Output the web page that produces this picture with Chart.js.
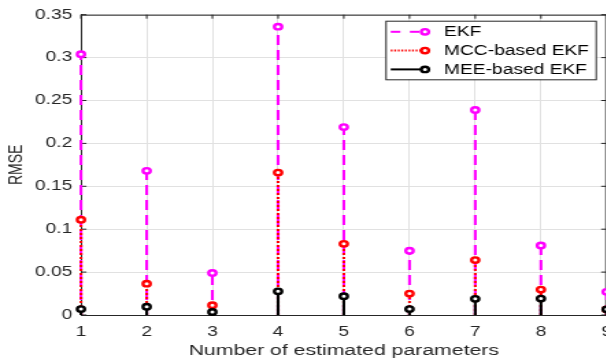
<!DOCTYPE html>
<html>
<head>
<meta charset="utf-8">
<script src="https://cdn.jsdelivr.net/npm/chart.js@4.4.1/dist/chart.umd.min.js"></script>
<style>
  html, body { margin: 0; padding: 0; background: #fff; overflow: hidden; width: 606px; height: 364px; }
  /* the reference is stretched horizontally, so draw narrow and scale the x direction */
  #wrap { width: 470px; height: 364px; transform: scaleX(1.37); transform-origin: 0 0; }
</style>
</head>
<body>
<div id="wrap"><canvas id="chart" width="470" height="364"></canvas></div>
<script>
const params = [1, 2, 3, 4, 5, 6, 7, 8, 9];
const yTicks = [0, 0.05, 0.1, 0.15, 0.2, 0.25, 0.3, 0.35];
const seriesNames = ['EKF', 'MCC-based EKF', 'MEE-based EKF'];
const ekf    = [0.304, 0.168, 0.049, 0.336, 0.219, 0.075, 0.239, 0.081, 0.027];
const mccEkf = [0.111, 0.0365, 0.0115, 0.166, 0.083, 0.025, 0.064, 0.0296, 0.0066];
const meeEkf = [0.0069, 0.0096, 0.0035, 0.0276, 0.0219, 0.0069, 0.0188, 0.0192, 0.0066];

const FONT = "'Liberation Sans', Arial, Helvetica, sans-serif";
const AXIS = '#262626';

function pts(vals) {
  return params.map((p, i) => ({ x: p, y: vals[i] }));
}

function series(label, vals, color, dash, legendDash, order) {
  return {
    label: label,
    data: pts(vals),
    showLine: false,
    borderColor: color,
    pointBorderColor: color,
    pointBackgroundColor: '#fff',
    pointRadius: 2.7,
    pointBorderWidth: 2.4,
    pointHoverRadius: 2.7,
    clip: false,
    order: order,
    stemDash: dash,
    legendDash: legendDash
  };
}

// vertical stems from zero up to each marker
const stemPlugin = {
  id: 'stems',
  beforeDatasetDraw(chart, args) {
    const ds = chart.data.datasets[args.index];
    const base = chart.scales.y.getPixelForValue(0);
    const ctx = chart.ctx;
    ctx.save();
    ctx.strokeStyle = ds.borderColor;
    ctx.lineWidth = 2.1;
    ctx.setLineDash(ds.stemDash);
    args.meta.data.forEach(pt => {
      ctx.beginPath();
      ctx.moveTo(pt.x, base);
      ctx.lineTo(pt.x, pt.y);
      ctx.stroke();
    });
    ctx.restore();
  }
};

// matlab style box with inward ticks
const boxPlugin = {
  id: 'axesBox',
  beforeDatasetsDraw(chart) {
    const { ctx, chartArea: a, scales: { x, y } } = chart;
    ctx.save();
    ctx.strokeStyle = AXIS;
    ctx.lineWidth = 1;
    ctx.beginPath();
    ctx.moveTo(a.left, a.top + 0.5); ctx.lineTo(a.right, a.top + 0.5);
    ctx.moveTo(a.right - 0.5, a.top); ctx.lineTo(a.right - 0.5, a.bottom);
    params.forEach(v => {
      const px = x.getPixelForValue(v);
      ctx.moveTo(px, a.bottom); ctx.lineTo(px, a.bottom - 4);
      ctx.moveTo(px, a.top); ctx.lineTo(px, a.top + 4);
    });
    yTicks.forEach(v => {
      const py = y.getPixelForValue(v);
      ctx.moveTo(a.left, py); ctx.lineTo(a.left + 4, py);
      ctx.moveTo(a.right, py); ctx.lineTo(a.right - 4, py);
    });
    ctx.stroke();
    ctx.restore();
  }
};

const legendPlugin = {
  id: 'boxLegend',
  afterDraw(chart) {
    const ctx = chart.ctx;
    const x0 = 281.8, y0 = 20.7, w = 153.4, h = 58.6;
    ctx.save();
    ctx.fillStyle = '#fff';
    ctx.fillRect(x0, y0, w, h);
    ctx.strokeStyle = AXIS;
    ctx.lineWidth = 1;
    ctx.strokeRect(x0, y0 + 0.5, w, h);
    chart.data.datasets.forEach((ds, i) => {
      const yy = 31.8 + i * 18.8;
      ctx.strokeStyle = ds.borderColor;
      ctx.lineWidth = 2;
      ctx.setLineDash(ds.legendDash);
      ctx.beginPath();
      ctx.moveTo(285.2, yy);
      ctx.lineTo(310.2, yy);
      ctx.stroke();
      ctx.setLineDash([]);
      ctx.beginPath();
      ctx.arc(310.2, yy, 2.7, 0, Math.PI * 2);
      ctx.fillStyle = '#fff';
      ctx.fill();
      ctx.lineWidth = 2.4;
      ctx.stroke();
      ctx.fillStyle = '#000';
      ctx.font = '14px ' + FONT;
      ctx.textBaseline = 'middle';
      ctx.textAlign = 'left';
      ctx.fillText(ds.label, 324.1, yy + 0.5);
    });
    ctx.restore();
  }
};

const ctx = document.getElementById('chart').getContext('2d');
const chart = new Chart(ctx, {
  type: 'scatter',
  data: {
    datasets: [
      series(seriesNames[0], ekf, '#ff00ff', [10, 5], [7, 7], 3),
      series(seriesNames[1], mccEkf, '#ff0000', [2, 2], [1.3, 1.3], 2),
      series(seriesNames[2], meeEkf, '#000000', [], [], 1)
    ]
  },
  options: {
    responsive: false,
    animation: false,
    devicePixelRatio: 1,
    layout: { padding: { left: 0, top: 10.7, right: 27.2, bottom: 0 } },
    plugins: { legend: { display: false }, tooltip: { enabled: false } },
    scales: {
      x: {
        type: 'linear', min: 1, max: 9,
        afterBuildTicks: s => { s.ticks = params.map(v => ({ value: v })); },
        afterFit: s => { s.height = 49; },
        grid: { color: '#e1e1e1', drawTicks: false },
        border: { color: AXIS, width: 1 },
        ticks: { padding: 8.5, color: AXIS, font: { size: 14, family: FONT }, maxRotation: 0, autoSkip: false, callback: v => String(v) },
        title: { display: true, text: 'Number of estimated parameters', color: AXIS, font: { size: 15.5, family: FONT }, padding: { top: 0, bottom: 4 } }
      },
      y: {
        type: 'linear', min: 0, max: 0.35,
        afterBuildTicks: s => { s.ticks = yTicks.map(v => ({ value: v })); },
        afterFit: s => { s.width = 59.1; },
        grid: { color: '#e1e1e1', drawTicks: false },
        border: { color: AXIS, width: 1 },
        ticks: { padding: 6.3, color: AXIS, font: { size: 14, family: FONT }, callback: v => String(v) },
        title: { display: true, text: 'RMSE', color: AXIS, font: { size: 14, family: FONT }, padding: { top: 3.5, bottom: 0 } }
      }
    }
  },
  plugins: [stemPlugin, boxPlugin, legendPlugin]
});
</script>
</body>
</html>
